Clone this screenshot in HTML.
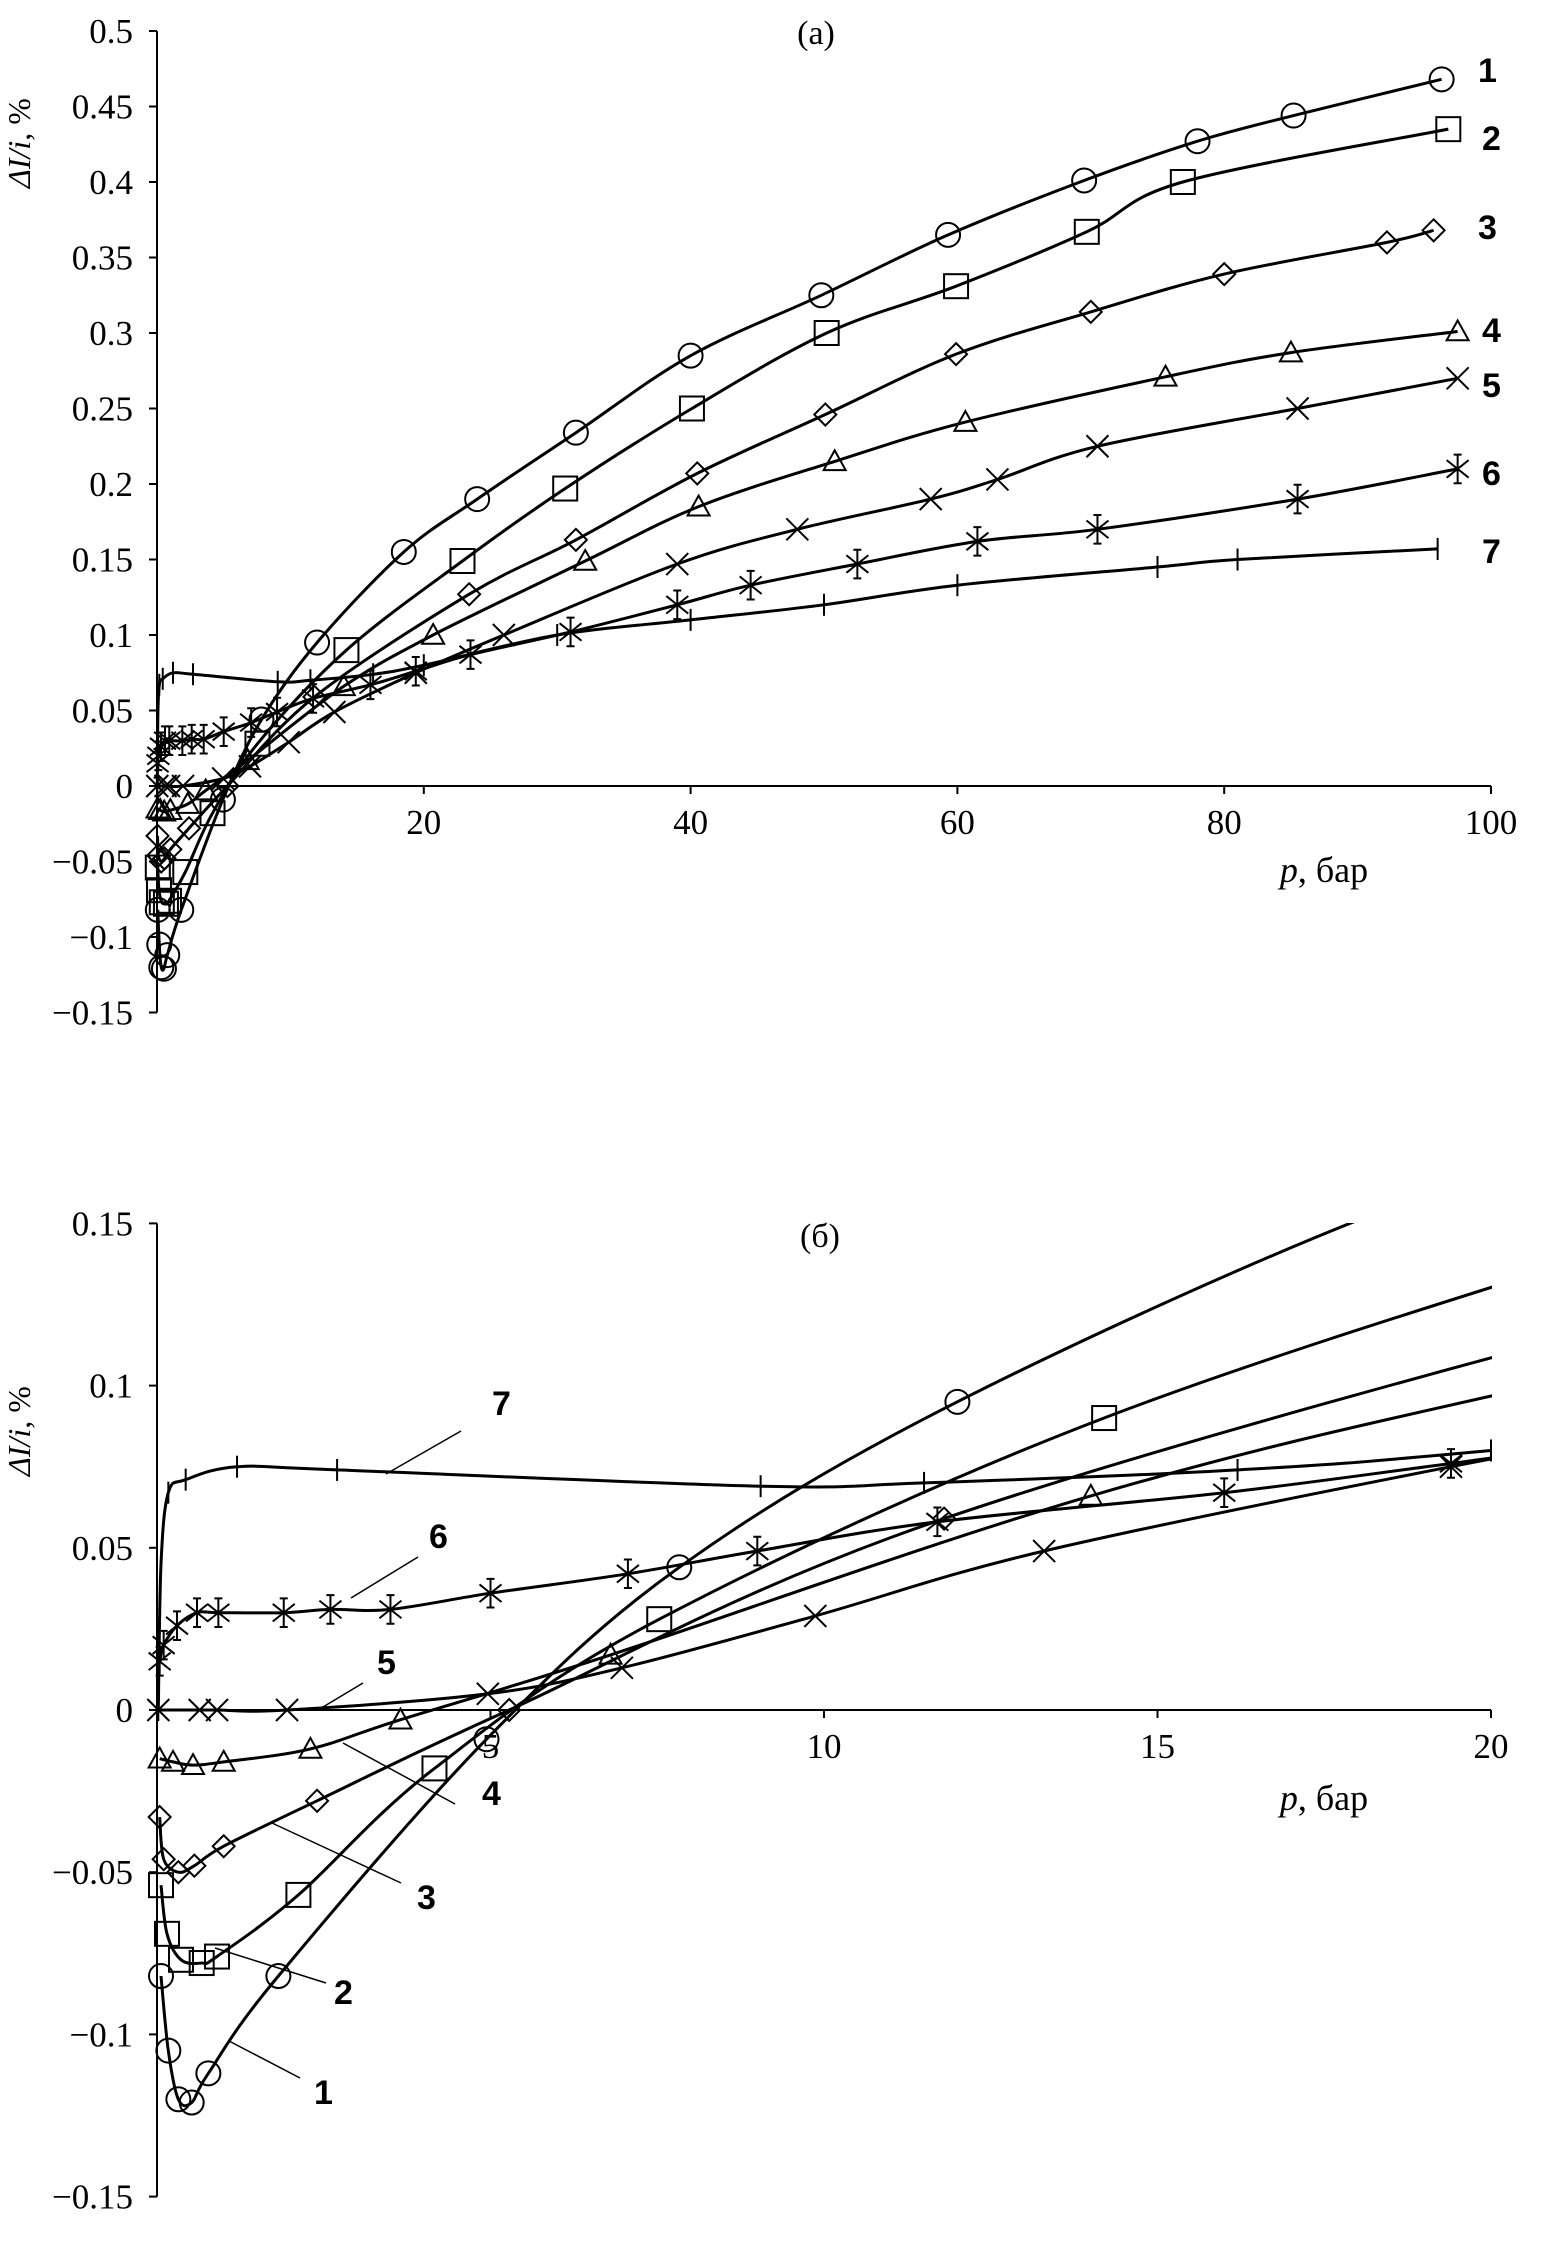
<!DOCTYPE html>
<html><head><meta charset="utf-8">
<style>
html,body{margin:0;padding:0;background:#fff;}
svg{display:block;}
text{font-family:"Liberation Serif",serif;fill:#000;}
.tick{font-size:35px;}
text.lab{font-family:"Liberation Sans",sans-serif;font-weight:bold;font-size:34px;}
</style></head>
<body>
<svg id="chart" width="1550" height="2251" viewBox="0 0 1550 2251" xmlns="http://www.w3.org/2000/svg">
<defs>
<clipPath id="clipA"><rect x="120" y="0" width="1400" height="1100"/></clipPath>
<clipPath id="clipB"><rect x="120" y="1223" width="1372" height="990"/></clipPath>
</defs>
<g id="panelA"></g>
<g id="panelB"></g>
</svg>
<script>
// ----- data: pressure (bar) and ΔI/i (%) for series 1..7 -----
const s1p=[0.06,0.17,0.32,0.52,0.77,1.82,4.94,7.83,12.0,18.5,24,31.4,40,49.8,59.3,69.5,78,85.2,96.3];
const s1v=[-0.082,-0.105,-0.12,-0.121,-0.112,-0.082,-0.009,0.044,0.095,0.155,0.19,0.234,0.285,0.325,0.365,0.401,0.427,0.444,0.468];
const s2p=[0.06,0.15,0.36,0.67,0.9,2.12,4.16,7.53,14.2,22.9,30.6,40.1,50.2,59.9,69.7,76.9,96.8];
const s2v=[-0.054,-0.069,-0.077,-0.078,-0.076,-0.057,-0.018,0.028,0.09,0.149,0.197,0.25,0.3,0.331,0.367,0.4,0.435];
const s3p=[0.04,0.1,0.32,0.56,1.0,2.4,5.28,11.8,23.4,31.4,40.5,50.1,59.9,70,80,92.2,95.7];
const s3v=[-0.033,-0.046,-0.05,-0.048,-0.042,-0.028,0,0.059,0.127,0.163,0.207,0.246,0.286,0.314,0.339,0.36,0.368];
const s4p=[0.04,0.24,0.54,1.0,2.3,3.65,6.8,14.0,20.7,32.1,40.6,50.8,60.6,75.6,85,97.5];
const s4v=[-0.015,-0.016,-0.017,-0.016,-0.012,-0.003,0.017,0.066,0.1,0.149,0.185,0.215,0.241,0.271,0.287,0.301];
const s5p=[0.02,0.64,0.9,1.95,4.96,6.97,9.87,13.3,19.4,26,39,48,58,63,70.5,85.5,97.5];
const s5v=[0,0,0,0,0.005,0.013,0.029,0.049,0.075,0.1,0.147,0.17,0.19,0.203,0.225,0.25,0.27];
const s6p=[0.04,0.1,0.3,0.6,0.92,1.9,2.6,3.5,5,7.06,9,11.7,16,19.4,23.5,31,39,44.5,52.5,61.5,70.5,85.5,97.5];
const s6v=[0.015,0.02,0.026,0.03,0.03,0.03,0.031,0.031,0.036,0.042,0.049,0.058,0.067,0.076,0.087,0.102,0.12,0.133,0.147,0.162,0.17,0.19,0.21];
const s7p=[0.02,0.06,0.17,0.43,1.2,2.7,9.05,11.5,16.2,20,30,40,50,60,75,81,96];
const s7v=[0,0.045,0.067,0.071,0.075,0.074,0.069,0.07,0.074,0.08,0.1,0.11,0.12,0.133,0.145,0.15,0.157];
const seriesP=[s1p,s2p,s3p,s4p,s5p,s6p,s7p];
const seriesV=[s1v,s2v,s3v,s4v,s5v,s6v,s7v];
const markers=['circle','square','diamond','triangle','x','star','plus'];
const yTicksA=[0.5,0.45,0.4,0.35,0.3,0.25,0.2,0.15,0.1,0.05,0,-0.05,-0.1,-0.15];
const yTickLabelsA=['0.5','0.45','0.4','0.35','0.3','0.25','0.2','0.15','0.1','0.05','0','\u22120.05','\u22120.1','\u22120.15'];
const xTicksA=[20,40,60,80,100];
const yTicksB=[0.15,0.1,0.05,0,-0.05,-0.1,-0.15];
const yTickLabelsB=['0.15','0.1','0.05','0','\u22120.05','\u22120.1','\u22120.15'];
const xTicksB=[5,10,15,20];

const NS='http://www.w3.org/2000/svg';
function mk(tag,attrs,parent){const e=document.createElementNS(NS,tag);for(const k in attrs)e.setAttribute(k,attrs[k]);parent.appendChild(e);return e;}

function catmull(pts){
  if(pts.length<2)return '';
  let d='M'+pts[0][0].toFixed(1)+','+pts[0][1].toFixed(1);
  for(let i=0;i<pts.length-1;i++){
    const p0=pts[Math.max(0,i-1)],p1=pts[i],p2=pts[i+1],p3=pts[Math.min(pts.length-1,i+2)];
    const c1=[p1[0]+(p2[0]-p0[0])/6,p1[1]+(p2[1]-p0[1])/6];
    const c2=[p2[0]-(p3[0]-p1[0])/6,p2[1]-(p3[1]-p1[1])/6];
    d+=' C'+c1[0].toFixed(1)+','+c1[1].toFixed(1)+' '+c2[0].toFixed(1)+','+c2[1].toFixed(1)+' '+p2[0].toFixed(1)+','+p2[1].toFixed(1);
  }
  return d;
}

function drawMarker(g,type,x,y,s){
  const st={fill:'none',stroke:'#000','stroke-width':2};
  let e;
  if(type==='circle'){e=mk('circle',Object.assign({cx:x,cy:y,r:s},st),g);}
  else if(type==='square'){e=mk('rect',Object.assign({x:x-s,y:y-s,width:2*s,height:2*s},st),g);}
  else if(type==='diamond'){e=mk('polygon',Object.assign({points:`${x},${y-s} ${x+s},${y} ${x},${y+s} ${x-s},${y}`},st),g);}
  else if(type==='triangle'){e=mk('polygon',Object.assign({points:`${x},${y-s} ${x+s},${y+s*0.8} ${x-s},${y+s*0.8}`},st),g);}
  else if(type==='x'){e=mk('path',Object.assign({d:`M${x-s},${y-s}L${x+s},${y+s}M${x-s},${y+s}L${x+s},${y-s}`},st),g);}
  else if(type==='star'){e=mk('path',Object.assign({d:`M${x-s},${y-s*0.8}L${x+s},${y+s*0.8}M${x-s},${y+s*0.8}L${x+s},${y-s*0.8}M${x},${y-s*1.3}L${x},${y+s*1.3}M${x-4},${y-s*1.3}L${x+4},${y-s*1.3}M${x-4},${y+s*1.3}L${x+4},${y+s*1.3}`},st),g);}
  else {e=mk('path',Object.assign({d:`M${x},${y-s}L${x},${y+s}`},st),g);}
  
  
}

function panel(g,cfg){
  const X=v=>cfg.x0+(v-cfg.xmin)/(cfg.xmax-cfg.xmin)*(cfg.x1-cfg.x0);
  const Y=v=>cfg.yZero-v*cfg.ypu;
  const ya=mk('line',{x1:cfg.x0,y1:Y(cfg.ymax),x2:cfg.x0,y2:Y(cfg.ymin),stroke:'#000','stroke-width':2},g);
  
  const xa=mk('line',{x1:cfg.x0,y1:cfg.yZero,x2:cfg.x1,y2:cfg.yZero,stroke:'#000','stroke-width':2},g);
  
  cfg.yTicks.forEach((v,i)=>{
    mk('line',{x1:cfg.x0-8,y1:Y(v),x2:cfg.x0,y2:Y(v),stroke:'#000','stroke-width':2},g);
    const t=mk('text',{x:cfg.x0-24,y:Y(v)+12,'text-anchor':'end',class:'tick'},g);
    t.textContent=cfg.yLabels[i];
    
  });
  cfg.xTicks.forEach(v=>{
    mk('line',{x1:X(v),y1:cfg.yZero,x2:X(v),y2:cfg.yZero+8,stroke:'#000','stroke-width':2},g);
    const t=mk('text',{x:X(v),y:cfg.yZero+48,'text-anchor':'middle',class:'tick'},g);
    t.textContent=String(v);
    
  });
  const cg=mk('g',{'clip-path':'url(#'+cfg.clip+')'},g);
  seriesP.forEach((ps,si)=>{
    const vs=seriesV[si];
    const pts=[];const mp=[];
    ps.forEach((p,i)=>{ pts.push([X(p),Y(vs[i])]); if(p<=cfg.xmax) mp.push([X(p),Y(vs[i])]); });
    const path=mk('path',{d:catmull(pts),fill:'none',stroke:'#000','stroke-width':3},cg);
    
    
    const mg=mk('g',{},cg);
    
    
    mp.forEach(q=>{ if(q[1]>=Y(cfg.ymax)-2) drawMarker(mg,markers[si],q[0],q[1],markers[si]==='square'?12:(markers[si]==='circle'?12:11)); });
  });
}

panel(document.getElementById('panelA'),{x0:157,x1:1491,xmin:0,xmax:100,yZero:786,ypu:1510,ymax:0.5,ymin:-0.15,yTicks:yTicksA,yLabels:yTickLabelsA,xTicks:xTicksA,clip:'clipA'});
panel(document.getElementById('panelB'),{x0:157,x1:1491,xmin:0,xmax:20,yZero:1710,ypu:3244,ymax:0.15,ymin:-0.15,yTicks:yTicksB,yLabels:yTickLabelsB,xTicks:xTicksB,clip:'clipB'});
</script>
<svg style="position:absolute;left:0;top:0" width="1550" height="2251">
<text x="816" y="44" text-anchor="middle" font-size="34">(a)</text>
<text x="820" y="1247" text-anchor="middle" font-size="34">(б)</text>
<text x="1324" y="882" text-anchor="middle" font-size="36"><tspan font-style="italic">p</tspan>, бар</text>
<text x="1324" y="1810" text-anchor="middle" font-size="36"><tspan font-style="italic">p</tspan>, бар</text>
<text transform="translate(30,143) rotate(-90)" text-anchor="middle" font-size="32"><tspan font-style="italic">ΔI/i</tspan>, %</text>
<text transform="translate(30,1431) rotate(-90)" text-anchor="middle" font-size="32"><tspan font-style="italic">ΔI/i</tspan>, %</text>
<text class="lab" x="1478" y="82">1</text>
<text class="lab" x="1482" y="150">2</text>
<text class="lab" x="1478" y="239">3</text>
<text class="lab" x="1482" y="342">4</text>
<text class="lab" x="1482" y="397">5</text>
<text class="lab" x="1482" y="485">6</text>
<text class="lab" x="1482" y="563">7</text>
<text class="lab" x="492" y="1415">7</text>
<text class="lab" x="429" y="1548">6</text>
<text class="lab" x="377" y="1674">5</text>
<text class="lab" x="482" y="1805">4</text>
<text class="lab" x="417" y="1909">3</text>
<text class="lab" x="334" y="2004">2</text>
<text class="lab" x="314" y="2104">1</text>
<g stroke="#000" stroke-width="1.5">
<line x1="386" y1="1474" x2="461" y2="1431"/>
<line x1="351" y1="1598" x2="418" y2="1557"/>
<line x1="318" y1="1710" x2="363" y2="1683"/>
<line x1="343" y1="1743" x2="455" y2="1804"/>
<line x1="272" y1="1823" x2="401" y2="1883"/>
<line x1="215" y1="1948" x2="326" y2="1983"/>
<line x1="229" y1="2041" x2="300" y2="2078"/>
</g>
</svg>
</body></html>
